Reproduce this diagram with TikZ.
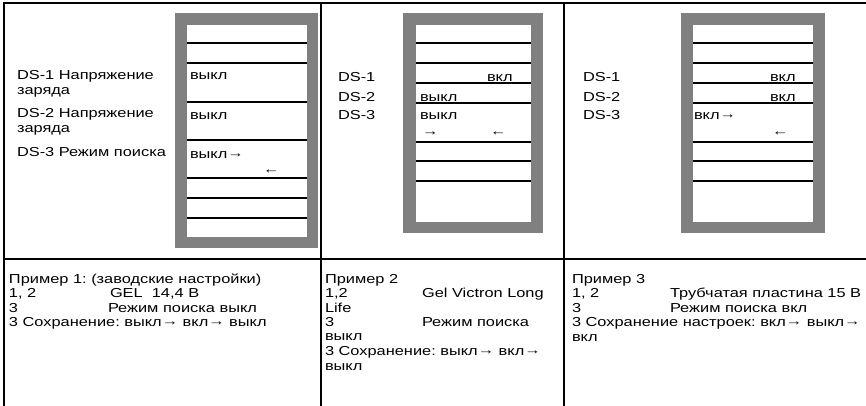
\documentclass[tikz,border=0pt]{standalone}
\usepackage{fontspec}
\setmainfont{Liberation Sans}[FakeStretch=1.26]
\newcommand\rarr{\raisebox{1pt}{→}}
\newcommand\larr{\raisebox{1pt}{←}}
\begin{document}
\frenchspacing
\begin{tikzpicture}[x=1pt,y=-1pt,
  tbl/.style={line width=2.4pt,black},
  rowline/.style={line width=1.6pt,black},
  txt/.style={anchor=base west,inner sep=0pt,outer sep=0pt,font=\fontsize{13}{15}\selectfont}]
\useasboundingbox (0,0) rectangle (866,406);
% table lines
\draw[tbl] (3,3) -- (866,3);
\draw[tbl] (3,259) -- (866,259);
\draw[tbl] (4,2) -- (4,406);
\draw[tbl] (321,2) -- (321,406);
\draw[tbl] (564,2) -- (564,406);
% box 1
\fill[gray] (175,13) rectangle (318,248);
\fill[white] (187,25) rectangle (307,237);
\foreach \y in {43,63,102,140,178,198,218} \draw[rowline] (187,\y) -- (307,\y);
% box 2
\fill[gray] (403,13) rectangle (543,233);
\fill[white] (416,25) rectangle (531,222);
\foreach \y in {43,63,83,103,142,161,181} \draw[rowline] (416,\y) -- (531,\y);
% box 3
\fill[gray] (681,13) rectangle (825,233);
\fill[white] (693,25) rectangle (813,222);
\foreach \y in {43,63,83,103,142,161,181} \draw[rowline] (693,\y) -- (813,\y);
% top cell 1
\node[txt] (a1) at (17,80) {DS-1 Напряжение};
\node[txt] (a2) at (17,95) {заряда};
\node[txt] (a3) at (17,118) {DS-2 Напряжение};
\node[txt] (a4) at (17,133) {заряда};
\node[txt] (a5) at (17,157) {DS-3 Режим поиска};
\node[txt] (b1) at (190,80) {выкл};
\node[txt] (b2) at (190,120) {выкл};
\node[txt] (b3) at (190,158) {выкл\rarr};
\node[txt] (b4) at (263,175) {\larr};
% top cell 2
\node[txt] (c1) at (338,82) {DS-1};
\node[txt] (c2) at (338,102) {DS-2};
\node[txt] (c3) at (338,120) {DS-3};
\node[txt] (d1) at (487,82) {вкл};
\node[txt] (d2) at (420,102) {выкл};
\node[txt] (d3) at (420,120) {выкл};
\node[txt] (d4) at (422,137) {\rarr};
\node[txt] (d5) at (490,137) {\larr};
% top cell 3
\node[txt] (e1) at (583,82) {DS-1};
\node[txt] (e2) at (583,102) {DS-2};
\node[txt] (e3) at (583,120) {DS-3};
\node[txt] (f1) at (770,82) {вкл};
\node[txt] (f2) at (770,102) {вкл};
\node[txt] (f3) at (694,120) {вкл\rarr};
\node[txt] (f4) at (772,137) {\larr};
% bottom cell 1
\node[txt] (g1) at (9,283) {Пример 1: (заводские настройки)};
\node[txt] (g2) at (9,297) {1, 2};
\node[txt] (g3) at (110,297) {GEL\ \ 14,4 В};
\node[txt] (g4) at (9,312) {3};
\node[txt] (g5) at (108,312) {Режим поиска выкл};
\node[txt] (g6) at (9,326) {3 Сохранение: выкл\rarr{} вкл\rarr{} выкл};
% bottom cell 2
\node[txt] (h1) at (325,283) {Пример 2};
\node[txt] (h2) at (325,297) {1,2};
\node[txt] (h3) at (422,297) {Gel Victron Long};
\node[txt] (h4) at (325,312) {Life};
\node[txt] (h5) at (325,326) {3};
\node[txt] (h6) at (422,326) {Режим поиска};
\node[txt] (h7) at (325,340) {выкл};
\node[txt] (h8) at (325,355) {3 Сохранение: выкл\rarr{} вкл\rarr};
\node[txt] (h9) at (325,370) {выкл};
% bottom cell 3
\node[txt] (k1) at (572,283) {Пример 3};
\node[txt] (k2) at (572,297) {1, 2};
\node[txt] (k3) at (670,297) {Трубчатая пластина 15 В};
\node[txt] (k4) at (572,312) {3};
\node[txt] (k5) at (670,312) {Режим поиска вкл};
\node[txt] (k6) at (572,326) {3 Сохранение настроек: вкл\rarr{} выкл\rarr};
\node[txt] (k7) at (572,341) {вкл};
\end{tikzpicture}
\end{document}
